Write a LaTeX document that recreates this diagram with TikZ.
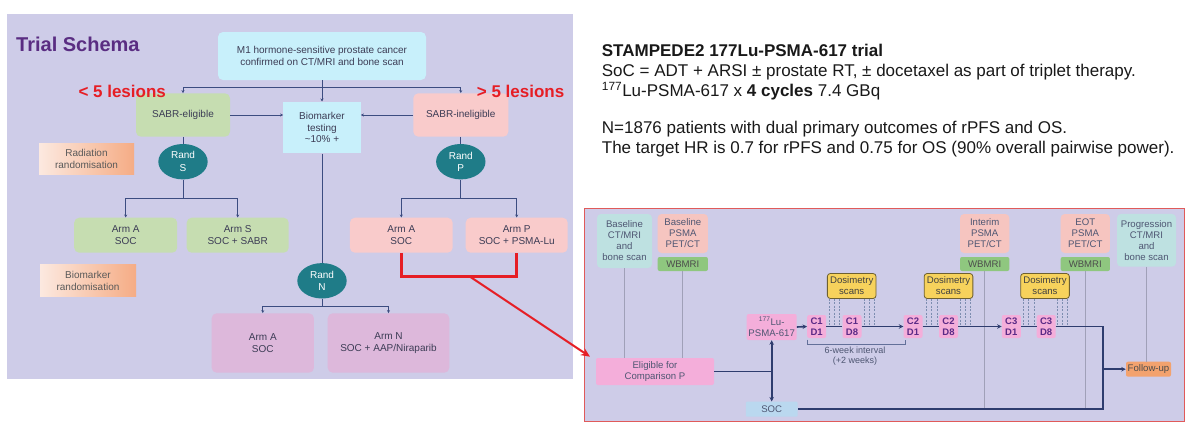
\documentclass[tikz,border=0pt]{standalone}
\usepackage{fontspec}
\setmainfont{Liberation Sans}
\usetikzlibrary{shapes.geometric,arrows.meta}
\definecolor{lav}{HTML}{CECCE8}
\definecolor{cyanb}{HTML}{C8F0FB}
\definecolor{greenb}{HTML}{C6DDB1}
\definecolor{pinkb}{HTML}{F9CBCB}
\definecolor{mauveb}{HTML}{DDB8DB}
\definecolor{tealb}{HTML}{1F7C88}
\definecolor{gradl}{HTML}{FCE9E0}
\definecolor{gradr}{HTML}{F5AC85}
\definecolor{titlepurple}{HTML}{5A2D82}
\definecolor{lesred}{HTML}{E61E25}
\definecolor{lnavy}{HTML}{3C4C80}
\definecolor{ltext}{HTML}{3C3C55}
\definecolor{framered}{HTML}{E05A5A}
\definecolor{ctb}{HTML}{BEE1E1}
\definecolor{psmab}{HTML}{F6C5C0}
\definecolor{wbb}{HTML}{8FC77F}
\definecolor{magb}{HTML}{F4AEDA}
\definecolor{dosb}{HTML}{F7D25C}
\definecolor{dosd}{HTML}{6E6030}
\definecolor{socb}{HTML}{BAD8EF}
\definecolor{fub}{HTML}{F3A26E}
\definecolor{rnavy}{HTML}{2E3C6E}
\definecolor{vgray}{HTML}{A0A0B8}
\definecolor{dashc}{HTML}{7D8DB0}
\definecolor{cpurple}{HTML}{5B2A86}
\definecolor{rtext}{HTML}{4E5672}
\begin{document}
\begin{tikzpicture}[x=1pt,y=-1pt,
  lbox/.style={inner sep=0pt, align=center, font=\fontsize{10}{11.7}\selectfont, text=ltext},
  rnd/.style={rounded corners=5pt},
  randel/.style={ellipse, fill=tealb, text=white, inner sep=0pt, align=center,
    minimum width=49.4pt, minimum height=35.4pt, font=\fontsize{10}{12.6}\selectfont},
  gradbox/.style={lbox, left color=gradl, right color=gradr, text=black!65},
  lline/.style={draw=lnavy, line width=0.8pt},
  larr/.style={lline, -{Stealth[length=3pt,width=3pt]}},
  redl/.style={draw=lesred, line width=2.6pt},
  redarr/.style={draw=lesred, line width=2pt, -{Stealth[length=9pt,width=8pt]}},
  lestxt/.style={anchor=base west, inner sep=0pt, font=\bfseries\fontsize{17}{20}\selectfont, text=lesred},
  rbox/.style={inner sep=0pt, align=center, rounded corners=4pt, font=\fontsize{9.6}{11}\selectfont, text=rtext},
  cbox/.style={inner sep=0pt, align=center, rounded corners=2pt, fill=magb, text=cpurple,
    minimum width=19pt, minimum height=23pt, font=\bfseries\fontsize{9.5}{11}\selectfont},
  dosbox/.style={rbox, fill=dosb, draw=dosd, line width=0.8pt, rounded corners=3pt,
    minimum width=48.7pt, minimum height=25pt, text=black!75},
  nline/.style={draw=rnavy, line width=1.6pt},
  narr/.style={nline, -{Stealth[length=4.5pt,width=4.5pt]}},
  gline/.style={draw=vgray, line width=0.7pt},
  dline/.style={draw=dashc, line width=0.6pt, dash pattern=on 2pt off 1.5pt},
  rtxt/.style={anchor=base west, inner sep=0pt, font=\fontsize{17}{20}\selectfont, text=black!90}
]
\path[use as bounding box, fill=white] (0,0) rectangle (1200,431);

% ---------------- left panel ----------------
\fill[lav] (6.7,14) rectangle (572.7,379.3);
\node[anchor=base west, inner sep=0pt, font=\bfseries\fontsize{20}{24}\selectfont, text=titlepurple] (title) at (16,51.7) {Trial Schema};

\node[lbox, rnd, fill=cyanb, minimum width=208pt, minimum height=48pt] (M1) at (322,56) {M1 hormone-sensitive prostate cancer\\confirmed on CT/MRI and bone scan};

\node[lbox, rnd, fill=greenb, minimum width=94pt, minimum height=43.4pt] (SE) at (183,115) {SABR-eligible};
\node[lbox, fill=cyanb, minimum width=77.4pt, minimum height=51.6pt] (Bio) at (322,127.5) {Biomarker\\testing\\\textasciitilde10\% +};
\node[lbox, rnd, fill=pinkb, minimum width=95pt, minimum height=43.4pt] (SI) at (460.8,115) {SABR-ineligible};

\node[lestxt] (lt) at (78.3,97.3) {< 5 lesions};
\node[lestxt] (gt) at (476.7,97.3) {> 5 lesions};

\node[randel] (RS) at (183,161.7) {Rand\\S};
\node[randel] (RP) at (460.8,161.7) {Rand\\P};
\node[gradbox, minimum width=95pt, minimum height=30.7pt] (RR) at (86.5,158.7) {Radiation\\randomisation};

\node[lbox, rnd, fill=greenb, minimum width=103pt, minimum height=35pt] (AAS) at (125.7,235.2) {Arm A\\SOC};
\node[lbox, rnd, fill=greenb, minimum width=102pt, minimum height=35pt] (AS) at (237.7,235.2) {Arm S\\SOC + SABR};
\node[lbox, rnd, fill=pinkb, minimum width=102.7pt, minimum height=35pt] (AAP) at (401.3,235.2) {Arm A\\SOC};
\node[lbox, rnd, fill=pinkb, minimum width=102pt, minimum height=35pt] (AP) at (516.7,235.2) {Arm P\\SOC + PSMA-Lu};

\node[gradbox, minimum width=96pt, minimum height=31.7pt] (BR) at (88,280.8) {Biomarker\\randomisation};
\node[randel] (RN) at (322,280.8) {Rand\\N};
\node[lbox, rnd, fill=mauveb, minimum width=102.3pt, minimum height=59.4pt] (AAN) at (262.8,343) {Arm A\\SOC};
\node[lbox, rnd, fill=mauveb, minimum width=121.6pt, minimum height=59.4pt] (AN) at (388.5,343) {Arm N\\SOC + AAP/Niraparib};

\coordinate (jm) at (322,87.3);
\coordinate (jS) at (183,198.3);
\coordinate (jP) at (460.8,198.3);
\coordinate (jN) at (322,306);
\draw[larr] (M1.south) -- (Bio.north);
\draw[lline] (jm -| SE.north) -- (jm -| SI.north);
\draw[larr] (jm) -| (SE.north);
\draw[larr] (jm) -| (SI.north);
\draw[larr] (SE.east) -- (SE.east -| Bio.west);
\draw[larr] (SI.west) -- (SI.west -| Bio.east);
\draw[lline] (SE.south) -- (RS.north);
\draw[lline] (SI.south) -- (RP.north);
\draw[lline] (RS.south) -- (jS);
\draw[larr] (jS) -| (AAS.north);
\draw[larr] (jS) -| (AS.north);
\draw[lline] (RP.south) -- (jP);
\draw[larr] (jP) -| (AAP.north);
\draw[larr] (jP) -| (AP.north);
\draw[lline] (Bio.south) -- (RN.north);
\draw[lline] (RN.south) -- (jN);
\draw[larr] (jN) -| (AAN.north);
\draw[larr] (jN) -| (AN.north);

% ---------------- right text ----------------
\node[rtxt] (t1) at (601.7,56.7) {\bfseries STAMPEDE2 177Lu-PSMA-617 trial};
\node[rtxt] (t2) at (601.7,76.7) {SoC = ADT + ARSI ± prostate RT, ± docetaxel as part of triplet therapy.};
\node[rtxt] (t3) at (601.7,96.7) {\textsuperscript{177}Lu-PSMA-617 x \textbf{4 cycles} 7.4 GBq};
\node[rtxt] (t4) at (601.7,133.3) {N=1876 patients with dual primary outcomes of rPFS and OS.};
\node[rtxt] (t5) at (601.7,153.3) {The target HR is 0.7 for rPFS and 0.75 for OS (90\% overall pairwise power).};

% ---------------- right panel ----------------
\draw[fill=lav, draw=framered, line width=1pt] (584,208) rectangle (1184,421.7);

\node[rbox, fill=ctb, minimum width=55pt, minimum height=54pt] (BCT) at (624.5,241) {Baseline\\CT/MRI\\and\\bone scan};
\node[rbox, fill=psmab, minimum width=50.3pt, minimum height=39pt] (BP) at (682.8,233.5) {Baseline\\PSMA\\PET/CT};
\node[rbox, fill=wbb, rounded corners=2pt, minimum width=50.3pt, minimum height=14pt, text=black!70] (WB1) at (682.8,264) {WBMRI};
\node[rbox, fill=psmab, minimum width=49.3pt, minimum height=39pt] (IP) at (984.7,233.5) {Interim\\PSMA\\PET/CT};
\node[rbox, fill=wbb, rounded corners=2pt, minimum width=49.3pt, minimum height=14pt, text=black!70] (WB2) at (984.7,264) {WBMRI};
\node[rbox, fill=psmab, minimum width=49.3pt, minimum height=39pt] (EP) at (1085.3,233.5) {EOT\\PSMA\\PET/CT};
\node[rbox, fill=wbb, rounded corners=2pt, minimum width=49.3pt, minimum height=14pt, text=black!70] (WB3) at (1085.3,264) {WBMRI};
\node[rbox, fill=ctb, minimum width=59pt, minimum height=52.7pt] (PR) at (1146.5,240.3) {Progression\\CT/MRI\\and\\bone scan};

\node[rbox, fill=magb, rounded corners=2pt, minimum width=118pt, minimum height=27pt] (EL) at (655,371.5) {Eligible for\\Comparison P};
\node[rbox, fill=magb, rounded corners=2pt, minimum width=50pt, minimum height=26pt] (LU) at (771.7,327) {\textsuperscript{177}Lu-\\PSMA-617};
\node[rbox, fill=socb, rounded corners=1pt, minimum width=51.7pt, minimum height=15pt] (SOC) at (771.7,409.2) {SOC};
\node[rbox, fill=fub, rounded corners=2pt, minimum width=45pt, minimum height=15pt, text=black!70] (FU) at (1148.5,369.2) {Follow-up};

\node[cbox] (C1a) at (816.7,326.5) {C1\\D1};
\node[cbox] (C1b) at (852,326.5) {C1\\D8};
\node[cbox] (C2a) at (913,326.5) {C2\\D1};
\node[cbox] (C2b) at (948.5,326.5) {C2\\D8};
\node[cbox] (C3a) at (1011.3,326.5) {C3\\D1};
\node[cbox] (C3b) at (1046.2,326.5) {C3\\D8};

\node[dosbox] (D1) at (851.7,286) {Dosimetry\\scans};
\node[dosbox] (D2) at (948.5,286) {Dosimetry\\scans};
\node[dosbox] (D3) at (1045,286) {Dosimetry\\scans};

\node[inner sep=0pt, align=center, font=\fontsize{9}{10.5}\selectfont, text=rtext] (IV) at (855,356) {6-week interval\\(+2 weeks)};

% dashed dosimetry links
\foreach \xx in {829.3,834.3,839.3,864,869.3,874.3}
  \draw[dline] (\xx,298.5) -- (\xx,326.5);
\foreach \xx in {926,931.7,937.3,960.5,965.5,970.5}
  \draw[dline] (\xx,298.5) -- (\xx,326.5);
\foreach \xx in {1023,1028.5,1034,1057.5,1062.5,1067.5}
  \draw[dline] (\xx,298.5) -- (\xx,326.5);

% gray timeline lines
\coordinate (jt) at (1102.7,326.5);
\coordinate (jn) at (1102.7,409.2);
\draw[gline] (BCT.south) -- (BCT.south |- EL.north);
\draw[gline] (WB1.south) -- (WB1.south |- EL.north);
\draw[gline] (WB2.south) -- (WB2.south |- jn);
\draw[gline] (WB3.south) -- (WB3.south |- jn);
\draw[gline] (PR.south) -- (PR.south |- FU.north);

% bracket
\draw[draw=lnavy!80, line width=0.7pt] (807.3,339.5) -- (807.3,344) -- (905,344) -- (905,339.5);

% navy flow
\draw[nline] (EL.east) -- (EL.east -| LU.south);
\draw[nline, {Stealth[length=4.5pt,width=4.5pt]}-{Stealth[length=4.5pt,width=4.5pt]}] (LU.south) -- (SOC.north);
\draw[narr] (LU.east) -- (C1a.west);
\draw[nline] (C1a.east) -- (C1b.west);
\draw[narr] (C1b.east) -- (C2a.west);
\draw[nline] (C2a.east) -- (C2b.west);
\draw[narr] (C2b.east) -- (C3a.west);
\draw[nline] (C3a.east) -- (C3b.west);
\draw[nline] (C3b.east) -- (jt) -- (jn) -- (SOC.east);
\draw[narr] (jt |- FU.west) -- (FU.west);

% red link
\coordinate (rb) at (470,276.7);
\coordinate (tip) at (590,356.7);
\draw[redl] (AAP.south) |- (rb) -| (AP.south);
\draw[redarr] (rb) -- (tip);
\end{tikzpicture}
\end{document}
